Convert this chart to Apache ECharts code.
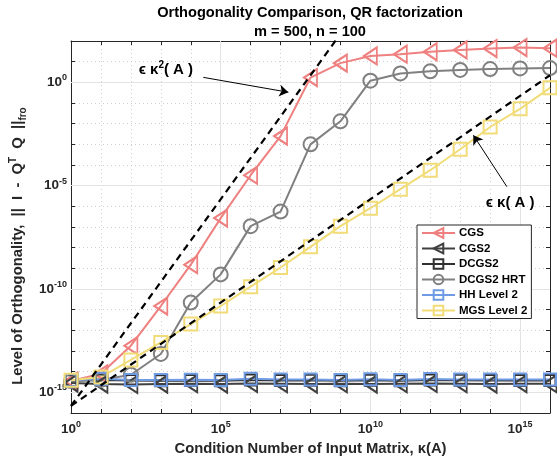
<!DOCTYPE html>
<html><head><meta charset="utf-8">
<script src="https://cdn.jsdelivr.net/npm/echarts@6/dist/echarts.min.js"></script>
<style>html,body{margin:0;padding:0;background:#fff}#c{width:557px;height:461px}</style>
</head><body><div id="c"></div>
<script>
// Condition numbers kappa(A) = 10^0 ... 10^16
const conditionNumbers = [1e0,1e1,1e2,1e3,1e4,1e5,1e6,1e7,1e8,1e9,1e10,1e11,1e12,1e13,1e14,1e15,1e16];
// Level of orthogonality || I - Q^T Q ||_fro
const cgs      = [3.5e-15,7.9e-15,1.8e-13,1.5e-11,1.5e-9,2.7e-7,3.2e-5,2.5e-3,1.7,8.5,19,23,30,37,43,48,45];
const cgs2     = [2.8e-15,2.5e-15,2.4e-15,2.5e-15,2.6e-15,2.5e-15,2.7e-15,2.6e-15,2.5e-15,2.6e-15,2.5e-15,2.6e-15,2.7e-15,2.6e-15,2.5e-15,2.6e-15,2.6e-15];
const dcgs2    = [3.6e-15,3.9e-15,3.7e-15,3.6e-15,3.7e-15,3.6e-15,4.0e-15,3.7e-15,3.8e-15,3.6e-15,3.8e-15,3.6e-15,3.9e-15,3.8e-15,3.7e-15,3.7e-15,3.7e-15];
const dcgs2Hrt = [3.5e-15,4.0e-15,7.1e-15,7.2e-14,2.2e-11,5.1e-10,1.1e-7,5.6e-7,1.0e-3,1.3e-2,1.2,2.7,3.4,4.0,4.4,4.7,4.9];
const hhLevel2 = [3.8e-15,4.6e-15,4.0e-15,4.0e-15,4.1e-15,4.0e-15,4.5e-15,4.2e-15,4.2e-15,4.0e-15,4.3e-15,4.0e-15,4.4e-15,4.2e-15,4.2e-15,4.2e-15,4.2e-15];
const mgsLevel2= [3.8e-15,5.5e-15,3.7e-14,2.6e-13,2.0e-12,1.5e-11,1.3e-10,1.1e-9,1.1e-8,1.1e-7,8.1e-7,6.8e-6,5.6e-5,5.8e-4,6.9e-3,5.2e-2,0.54];
// reference lines eps*kappa and eps*kappa^2
const eps = 2.2e-16;
const refKappaX   = [1e0, 1e16];
const refKappaSqX = [1e0, 1e9];
// tick labels (exponents)
const xTickExponents = [0,5,10,15];
const yTickExponents = [-15,-10,-5,0];
const seriesNames = ['CGS','CGS2','DCGS2','DCGS2 HRT','HH Level 2','MGS Level 2'];

const L = v => Math.log10(v);
const pts = arr => conditionNumbers.map((c,i)=>[L(c), L(arr[i])]);

const FONT = 'Liberation Sans, Arial, sans-serif';
const AX = '#262626';
const richTick = {
  b:{fontSize:13.5,fontWeight:'bold',fontFamily:FONT,color:AX},
  s:{fontSize:9,fontWeight:'bold',fontFamily:FONT,color:AX,verticalAlign:'bottom',padding:[0,0,9,0]}
};

function mk(name, arr, color, symbol, size, rotate){
  return {
    name, type:'line', data: pts(arr), xAxisIndex:0, yAxisIndex:0,
    symbol, symbolSize:size, symbolRotate:rotate||0, showAllSymbol:true,
    lineStyle:{color, width:2},
    itemStyle:{color:'rgba(255,255,255,0)', borderColor:color, borderWidth:2},
    emphasis:{disabled:true}, silent:true, z:3
  };
}

const chart = echarts.init(document.getElementById('c'), null, {renderer:'canvas'});
const baseX = {type:'value', min:0, max:16, interval:1, gridIndex:0};
const baseY = {type:'value', min:-16, max:2, interval:1, gridIndex:0};

const option = {
  animation:false,
  backgroundColor:'#fff',
  grid:{left:71, top:41, right:7, bottom:46, containLabel:false},
  xAxis:[
    Object.assign({}, baseX, {
      position:'bottom',
      axisLine:{show:true, onZero:false, lineStyle:{color:AX, width:1}},
      axisTick:{show:true, inside:true, length:4, lineStyle:{color:AX}},
      axisLabel:{show:true, margin:7, rich:richTick,
        formatter:v => xTickExponents.includes(v) ? '{b|10}{s|'+v+'}' : ''},
      splitLine:{show:true, lineStyle:{color:'#cfcfcf', type:[1,3], width:1}},
      name:'Condition Number of Input Matrix, κ(A)', nameLocation:'middle', nameGap:28,
      nameTextStyle:{fontSize:14.8, fontWeight:'bold', fontFamily:FONT, color:AX, padding:[0,0,0,0]}
    }),
    Object.assign({}, baseX, {
      position:'top',
      axisLine:{show:true, onZero:false, lineStyle:{color:AX, width:1}},
      axisTick:{show:true, inside:true, length:4, lineStyle:{color:AX}},
      axisLabel:{show:false}, splitLine:{show:false}
    })
  ],
  yAxis:[
    Object.assign({}, baseY, {
      position:'left',
      axisLine:{show:true, onZero:false, lineStyle:{color:AX, width:1}},
      axisTick:{show:true, inside:true, length:4, lineStyle:{color:AX}},
      axisLabel:{show:true, margin:4, rich:richTick,
        formatter:v => yTickExponents.includes(v) ? '{b|10}{s|'+v+'}' : ''},
      splitLine:{show:true, lineStyle:{color:'#cfcfcf', type:[1,3], width:1}}
    }),
    Object.assign({}, baseY, {
      position:'right',
      axisLine:{show:true, onZero:false, lineStyle:{color:AX, width:1}},
      axisTick:{show:true, inside:true, length:4, lineStyle:{color:AX}},
      axisLabel:{show:false}, splitLine:{show:false}
    })
  ],
  legend:{
    data:seriesNames, orient:'vertical', left:417, top:225,
    padding:[2,4,2,4], itemGap:3.5, itemWidth:33, itemHeight:12,
    backgroundColor:'#fff', borderColor:'#262626', borderWidth:1, borderRadius:0,
    textStyle:{fontSize:11.5, fontWeight:'bold', fontFamily:FONT, color:'#000', padding:[0,0,0,-1]},
    selectedMode:false
  },
  graphic:[
    {type:'text', x:310, y:13, style:{text:'Orthogonality Comparison, QR factorization', align:'center', verticalAlign:'middle', fontSize:14.6, fontWeight:'bold', fontFamily:FONT, fill:'#000'}},
    {type:'text', x:310, y:32, style:{text:'m = 500, n = 100', align:'center', verticalAlign:'middle', fontSize:14.6, fontWeight:'bold', fontFamily:FONT, fill:'#000'}},
    {type:'text', x:18, y:246, rotation:Math.PI/2,
      style:{text:'{t|Level of Orthogonality,  ||  I  -  Q}{u|T}{t|  Q  ||}{d|fro}', align:'center', verticalAlign:'middle',
        rich:{
          t:{fontSize:14.8, fontWeight:'bold', fontFamily:FONT, fill:AX},
          u:{fontSize:10, fontWeight:'bold', fontFamily:FONT, fill:AX, verticalAlign:'bottom', padding:[0,0,10,0]},
          d:{fontSize:10, fontWeight:'bold', fontFamily:FONT, fill:AX, verticalAlign:'bottom', padding:[5,0,0,0]}
        }}}
  ],
  series:[
    mk(seriesNames[0], cgs,      '#EF8080', 'triangle', [17,13], 90),
    mk(seriesNames[1], cgs2,     '#404040', 'triangle', [17,13], 90),
    mk(seriesNames[2], dcgs2,    '#303030', 'rect', 11),
    mk(seriesNames[3], dcgs2Hrt, '#808080', 'circle', 14),
    mk(seriesNames[4], hhLevel2, '#6E9BE3', 'rect', 12),
    mk(seriesNames[5], mgsLevel2,'#F1DC78', 'rect', 13),
    {
      name:'eps kappa^2', type:'line', symbol:'none', silent:true, clip:true, z:4,
      data: refKappaSqX.map(k=>[L(k), L(eps*k*k)]),
      lineStyle:{color:'#000', width:2.2, type:[7,5]},
      markLine:{
        silent:true, z:1, symbol:'none', label:{show:false},
        lineStyle:{color:'#e3e3e3', type:'solid', width:1},
        data: xTickExponents.filter(v=>v>0).map(v=>({xAxis:v}))
          .concat(yTickExponents.map(v=>({yAxis:v})))
      }
    },
    {
      name:'eps kappa', type:'line', symbol:'none', silent:true, clip:true, z:4,
      data: refKappaX.map(k=>[L(k), L(eps*k)]),
      lineStyle:{color:'#000', width:2.2, type:[7,5]},
      markLine:{
        silent:true, z:6, symbol:['none','arrow'], symbolSize:9, label:{show:false},
        lineStyle:{color:'#000', type:'solid', width:1},
        data:[
          [{coord:[4.42,0.24]},{coord:[7.26,-0.48]}],
          [{coord:[14.56,-5.05]},{coord:[13.44,-2.56]}]
        ]
      },
      markPoint:{
        silent:true, z:6, symbol:'rect', symbolSize:1, itemStyle:{color:'rgba(0,0,0,0)'},
        label:{show:true, position:'inside', rich:{
          t:{fontSize:15, fontWeight:'bold', fontFamily:FONT, color:'#000'},
          s:{fontSize:10, fontWeight:'bold', fontFamily:FONT, color:'#000', verticalAlign:'bottom', padding:[0,0,9,0]}
        }},
        data:[
          {coord:[3.17,0.62], label:{formatter:'{t|ϵ κ}{s|2}{t|( A )}'}},
          {coord:[14.67,-5.81], label:{formatter:'{t|ϵ κ( A )}'}}
        ]
      }
    }
  ]
};
chart.setOption(option);
</script></body></html>
